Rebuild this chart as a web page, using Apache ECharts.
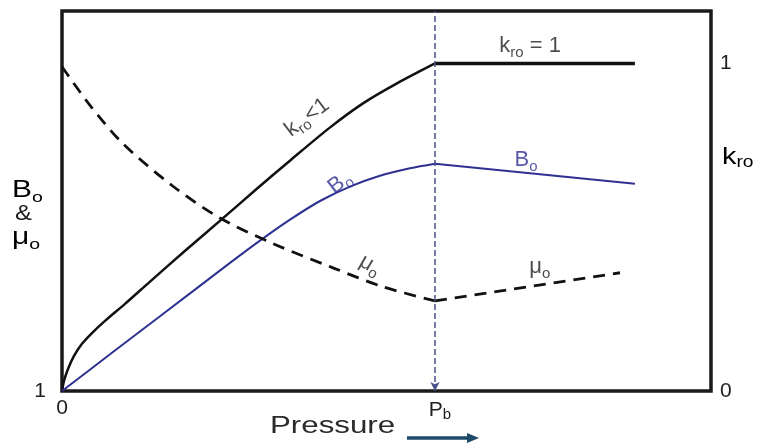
<!DOCTYPE html>
<html><head><meta charset="utf-8">
<script src="https://cdn.jsdelivr.net/npm/echarts@6/dist/echarts.min.js"></script>
<style>html,body{margin:0;padding:0;background:#fff}#c{width:757px;height:447px}</style>
</head><body><div id="c"></div>
<script>
// Pressure in arbitrary units, bubble point P_b = 10
const bubblePoint = 10;
// k_ro (right axis, 0..1)
const kroBelowPb = [[0,0],[0.054,0.031],[0.161,0.067],[0.322,0.107],[0.536,0.144],[0.804,0.177],[1.153,0.214],[1.689,0.266],[2.36,0.334],[3.30,0.428],[4.24,0.52],[5.17,0.612],[6.11,0.703],[7.18,0.804],[8.07,0.878],[8.98,0.939],[10,1.0]];
const kroAbovePb = [[10,1.0],[15.36,1.0]];
// B_o (left axis, starts at 1)
const boBelowPb = [[0,1.0],[1.287,1.112],[2.627,1.228],[4.504,1.391],[5.308,1.459],[6.113,1.523],[6.917,1.580],[7.721,1.624],[8.525,1.657],[9.33,1.680],[10,1.694]];
const boAbovePb = [[10,1.694],[15.36,1.633]];
// mu_o (left axis)
const muBelowPb = [[0,1.99],[0.751,1.872],[1.635,1.755],[2.976,1.625],[4.236,1.528],[5.657,1.45],[7.265,1.376],[8.606,1.318],[10,1.275]];
const muAbovePb = [[10,1.275],[14.96,1.361]];
// tick labels
const xTickValues = [0, bubblePoint];
const xTickLabels = ['0', '{m|P}{s|b}'];
const leftTickValues = [1];
const leftTickLabels = ['1'];
const rightTickValues = [0, 1];
const rightTickLabels = ['0', '1'];

const FONT = 'Liberation Sans';
const BLUE = '#2e3192';
const TXT = '#1e1e1e';
const rich = (c, big, small) => ({
  m: {fontSize: big || 22, fontFamily: FONT, color: c, lineHeight: 28, verticalAlign: 'middle'},
  s: {fontSize: small || 15, fontFamily: FONT, color: c, lineHeight: small || 15, verticalAlign: 'bottom'}
});

const annotations = [
  {pos: [12.55, 1.052], text: '{m|k}{s|ro}{m| = 1}', color: TXT, rotate: 0},
  {pos: [6.57, 0.835], text: '{m|k}{s|ro}{m|<1}', color: TXT, rotate: 37},
  {pos: [7.45, 0.636], text: '{m|B}{s|o}', color: BLUE, rotate: 38},
  {pos: [8.26, 0.385], text: '{m|μ}{s|o}', color: TXT, rotate: -30},
  {pos: [12.44, 0.705], text: '{m|B}{s|o}', color: BLUE, rotate: 0},
  {pos: [12.81, 0.378], text: '{m|μ}{s|o}', color: TXT, rotate: 0}
];

const chart = echarts.init(document.getElementById('c'), null, {renderer: 'canvas'});
const solid = (w, c) => ({width: w, color: c});
const SM = 0.3;
chart.setOption({
  animation: false,
  backgroundColor: '#fff',
  grid: {left: 62, right: 46, top: 11, bottom: 56, show: true, borderColor: '#1a1a1a', borderWidth: 3.5, backgroundColor: 'transparent'},
  xAxis: {
    type: 'value', min: 0, max: 17.4,
    axisLine: {show: false}, axisTick: {show: false}, splitLine: {show: false},
    axisLabel: {
      customValues: xTickValues, margin: 7,
      formatter: (v) => xTickLabels[xTickValues.indexOf(+v)] || '',
      fontSize: 21, fontFamily: FONT, color: TXT,
      rich: {m: {fontSize: 21, fontFamily: FONT, color: TXT, lineHeight: 24, verticalAlign: 'middle', padding: [0,0,0,10]},
             s: {fontSize: 15, fontFamily: FONT, color: TXT, lineHeight: 14, verticalAlign: 'bottom'}}
    }
  },
  yAxis: [
    {type: 'value', min: 1, max: 2.16, position: 'left',
     axisLine: {show: false}, axisTick: {show: false}, splitLine: {show: false},
     axisLabel: {customValues: leftTickValues, margin: 16, fontSize: 21, fontFamily: FONT, color: TXT, padding: [0,0,10,0],
       formatter: (v) => leftTickLabels[leftTickValues.indexOf(+v)] || ''}},
    {type: 'value', min: 0, max: 1.16, position: 'right',
     axisLine: {show: false}, axisTick: {show: false}, splitLine: {show: false},
     axisLabel: {customValues: rightTickValues, margin: 9, fontSize: 21, fontFamily: FONT, color: TXT,
       formatter: (v) => rightTickLabels[rightTickValues.indexOf(+v)] || ''}}
  ],
  series: [
    {type: 'line', name: 'kro', yAxisIndex: 1, data: kroBelowPb, smooth: SM, showSymbol: false, lineStyle: solid(2.5, '#111'),
     markLine: {silent: true, symbol: ['arrow', 'none'], symbolSize: [7, 9], label: {show: false},
       lineStyle: {type: [6, 3], width: 1.5, color: '#4a4f8c'}, data: [{xAxis: bubblePoint}]}},
    {type: 'line', name: 'kro2', yAxisIndex: 1, data: kroAbovePb, showSymbol: false, lineStyle: solid(3.5, '#111')},
    {type: 'line', name: 'bo', yAxisIndex: 0, data: boBelowPb, smooth: SM, showSymbol: false, lineStyle: solid(2, BLUE)},
    {type: 'line', name: 'bo2', yAxisIndex: 0, data: boAbovePb, showSymbol: false, lineStyle: solid(2, BLUE)},
    {type: 'line', name: 'mu', yAxisIndex: 0, data: muBelowPb, smooth: SM, showSymbol: false, lineStyle: {width: 2.8, color: '#111', type: [12, 8]}},
    {type: 'line', name: 'mu2', yAxisIndex: 0, data: muAbovePb, showSymbol: false, lineStyle: {width: 2.8, color: '#111', type: [12, 8]}},
    {type: 'scatter', name: 'labels', yAxisIndex: 1, symbolSize: 1, itemStyle: {color: 'transparent'}, silent: true,
     data: annotations.map(a => ({value: a.pos, label: {show: true, position: 'inside', formatter: a.text, rotate: a.rotate, rich: rich(a.color)}}))}
  ],
  graphic: [
    {type: 'text', x: 12, y: 191, scaleX: 1.3, style: {text: '{m|B}{s|o}', rich: rich(TXT, 23), verticalAlign: 'middle'}},
    {type: 'text', x: 15, y: 214, scaleX: 1.15, style: {text: '&', font: '22px "Liberation Sans"', fill: TXT, verticalAlign: 'middle'}},
    {type: 'text', x: 12, y: 238, scaleX: 1.3, style: {text: '{m|μ}{s|o}', rich: rich(TXT, 23), verticalAlign: 'middle'}},
    {type: 'text', x: 722, y: 157, scaleX: 1.2, style: {text: '{m|k}{s|ro}', rich: rich(TXT, 24, 16), verticalAlign: 'middle'}},
    {type: 'text', x: 270, y: 427, scaleX: 1.36, style: {text: 'Pressure', font: '23px "Liberation Sans"', fill: '#2a2a2a', verticalAlign: 'middle'}},
    {type: 'line', shape: {x1: 407, y1: 438, x2: 470, y2: 438}, style: {stroke: '#1d4a68', lineWidth: 3.5}},
    {type: 'polygon', shape: {points: [[467, 433], [479, 438], [467, 443]]}, style: {fill: '#1d4a68'}}
  ]
});
</script></body></html>
